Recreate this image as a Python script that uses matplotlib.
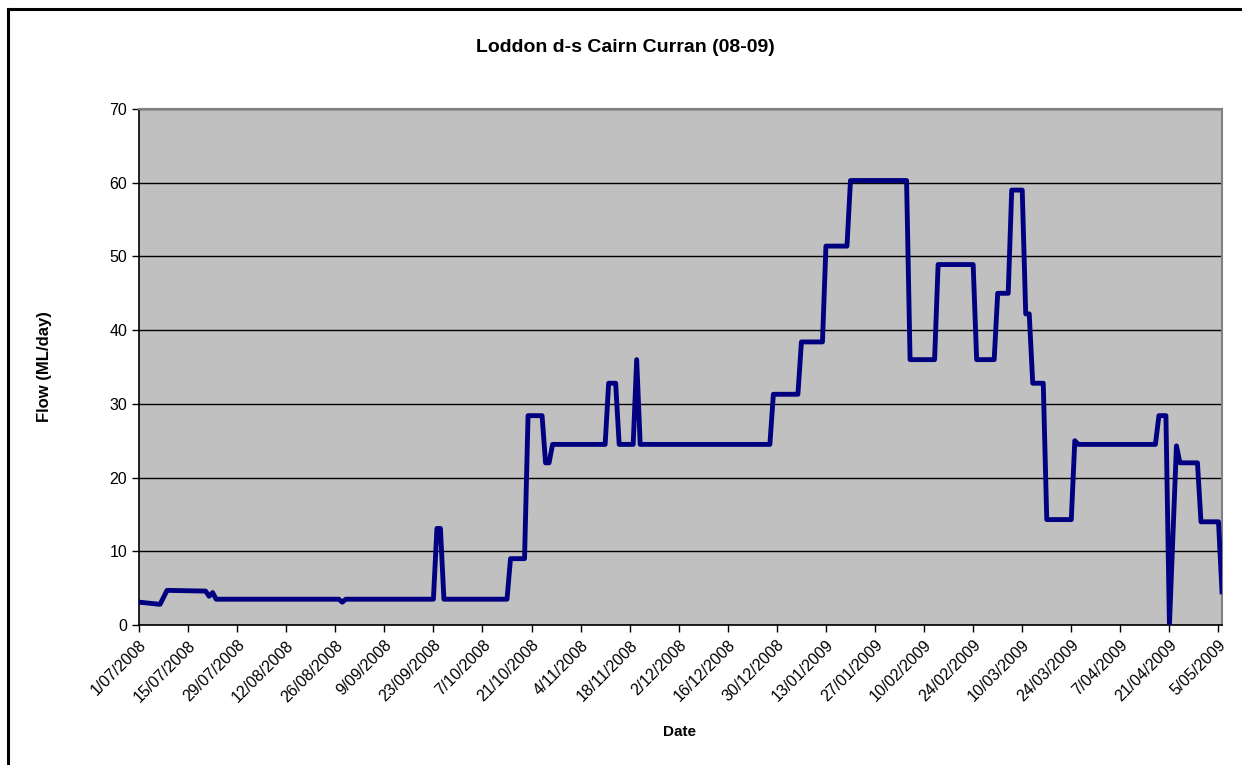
import pandas as pd
import matplotlib
matplotlib.use('Agg')
import matplotlib.pyplot as plt
from matplotlib.lines import Line2D

plt.rcParams['font.family'] = ['Liberation Sans', 'DejaVu Sans']

# Flow breakpoints (ML/day)
dates = ['2008-07-01', '2008-07-07', '2008-07-09', '2008-07-20', '2008-07-21', '2008-07-22',
         '2008-07-23', '2008-08-27', '2008-08-28', '2008-08-29', '2008-09-23', '2008-09-24',
         '2008-09-25', '2008-09-26', '2008-10-14', '2008-10-15', '2008-10-19', '2008-10-20',
         '2008-10-24', '2008-10-25', '2008-10-26', '2008-10-27', '2008-11-11', '2008-11-12',
         '2008-11-14', '2008-11-15', '2008-11-19', '2008-11-20', '2008-11-21', '2008-12-28',
         '2008-12-29', '2009-01-05', '2009-01-06', '2009-01-12', '2009-01-13', '2009-01-19',
         '2009-01-20', '2009-02-05', '2009-02-06', '2009-02-13', '2009-02-14', '2009-02-24',
         '2009-02-25', '2009-03-02', '2009-03-03', '2009-03-06', '2009-03-07', '2009-03-10',
         '2009-03-11', '2009-03-12', '2009-03-13', '2009-03-16', '2009-03-17', '2009-03-24',
         '2009-03-25', '2009-03-26', '2009-04-17', '2009-04-18', '2009-04-20', '2009-04-21',
         '2009-04-23', '2009-04-24', '2009-04-29', '2009-04-30', '2009-05-05', '2009-05-06']
flow = [3.1, 2.8, 4.7, 4.6, 3.9, 4.4,
        3.5, 3.5, 3.1, 3.5, 3.5, 13.1,
        13.1, 3.5, 3.5, 9.0, 9.0, 28.4,
        28.4, 22.0, 22.0, 24.5, 24.5, 32.8,
        32.8, 24.5, 24.5, 36.0, 24.5, 24.5,
        31.3, 31.3, 38.4, 38.4, 51.4, 51.4,
        60.3, 60.3, 36.0, 36.0, 48.9, 48.9,
        36.0, 36.0, 45.0, 45.0, 59.0, 59.0,
        42.2, 42.2, 32.8, 32.8, 14.3, 14.3,
        25.0, 24.5, 24.5, 28.4, 28.4, 0.0,
        24.3, 22.0, 22.0, 14.0, 14.0, 4.5]

x = pd.to_datetime(dates)
start = pd.Timestamp('2008-07-01')
end = pd.Timestamp('2009-05-06')
tick_dates = pd.date_range(start, periods=23, freq='14D')

fig = plt.figure(figsize=(12.42, 7.65), dpi=100)
ax = fig.add_axes([139/1242, 140/765, 1083/1242, 516/765])

ax.set_facecolor('#C0C0C0')
ax.plot(x, flow, color='#000080', linewidth=3.5, solid_joinstyle='round', zorder=3)

ax.set_xlim(start, end)
ax.set_ylim(0, 70)
ax.set_yticks(range(0, 71, 10))
ax.set_xticks(tick_dates)
ax.set_xticklabels([f'{d.day}/{d.month:02d}/{d.year}' for d in tick_dates],
                   rotation=45, ha='right', va='top', rotation_mode='anchor')
ax.tick_params(axis='both', labelsize=11.5, direction='out', length=5, width=1, colors='black')
ax.tick_params(axis='x', pad=4)
ax.grid(axis='y', color='black', linewidth=1)
ax.set_axisbelow(True)

for s in ['left', 'bottom']:
    ax.spines[s].set_color('black')
    ax.spines[s].set_linewidth(1.2)
for s in ['top', 'right']:
    ax.spines[s].set_color('#808080')
    ax.spines[s].set_linewidth(1.5)

fig.text(625/1242, 1 - 48/765, 'Loddon d-s Cairn Curran (08-09)', ha='center', va='center',
         fontsize=14, fontweight='bold')
fig.text(45/1242, 1 - 367/765, 'Flow (ML/day)', ha='center', va='center', rotation=90,
         fontsize=12, fontweight='bold')
fig.text(680/1242, 1 - 732/765, 'Date', ha='center', va='center', fontsize=11, fontweight='bold')

# outer chart frame (only left and top edges fall inside the image)
fig.add_artist(Line2D([8/1242, 8/1242], [0, 1 - 9/765], color='black', linewidth=2.2,
                      transform=fig.transFigure))
fig.add_artist(Line2D([8/1242, 1], [1 - 9/765, 1 - 9/765], color='black', linewidth=2.2,
                      transform=fig.transFigure))

fig.savefig('out.png', dpi=100)
